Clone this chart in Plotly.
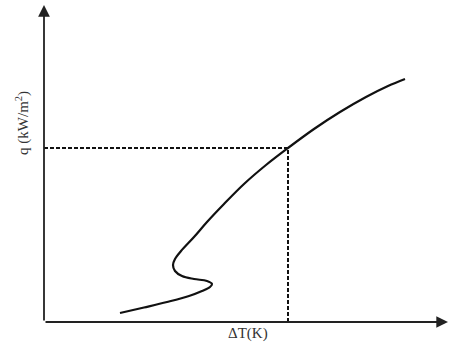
import plotly.graph_objects as go

# Boiling curve q(ΔT) in arbitrary chart units
delta_t = [76, 100, 123, 145, 158, 166, 168, 163, 150, 138, 131, 129, 131, 137,
           150, 163, 180, 200, 222, 244, 270, 296, 322, 344, 361]
heat_flux = [9, 14.5, 20, 26, 31, 35, 38, 41, 43, 46, 51, 57, 63, 71,
             85, 100, 118, 138, 157, 174, 193, 210, 225, 236, 243]

# Operating point marked by the dashed guide lines
dt_point = 244
q_point = 174

# Axis extents
x_max = 404
y_max = 317

label_font = dict(family="Liberation Serif, Times New Roman, serif", size=15, color="#333")

fig = go.Figure()

fig.add_trace(go.Scatter(
    x=delta_t, y=heat_flux, mode="lines",
    line=dict(color="#111", width=2.2, shape="spline", smoothing=1.0),
    hoverinfo="skip", showlegend=False,
))

# Dashed guides to the axes
fig.add_trace(go.Scatter(
    x=[0, dt_point, dt_point], y=[q_point, q_point, 0], mode="lines",
    line=dict(color="#111", width=2, dash="4px,2px"),
    hoverinfo="skip", showlegend=False,
))

# Axes with arrow heads
axis_arrow = dict(xref="x", yref="y", axref="x", ayref="y", text="",
                  showarrow=True, arrowhead=2, arrowsize=1.3, arrowwidth=1.8,
                  arrowcolor="#222")
fig.add_annotation(x=0, y=y_max, ax=0, ay=0, **axis_arrow)
fig.add_annotation(x=x_max, y=0, ax=0, ay=0, **axis_arrow)

fig.add_annotation(xref="paper", yref="paper", x=0.505, y=-0.035, yanchor="middle",
                   text="ΔT(K)", showarrow=False, font=label_font)
fig.add_annotation(xref="paper", yref="paper", x=-0.052, y=0.628,
                   xanchor="center", yanchor="middle",
                   text="q (kW/m<sup>2</sup>)", textangle=-90, showarrow=False,
                   font=label_font)

fig.update_xaxes(range=[0, x_max], visible=False, fixedrange=True)
fig.update_yaxes(range=[0, y_max], visible=False, fixedrange=True)
fig.update_layout(
    width=449, height=342,
    margin=dict(l=44, r=1, t=5, b=20),
    plot_bgcolor="white", paper_bgcolor="white",
)

fig.write_html("out.html")
